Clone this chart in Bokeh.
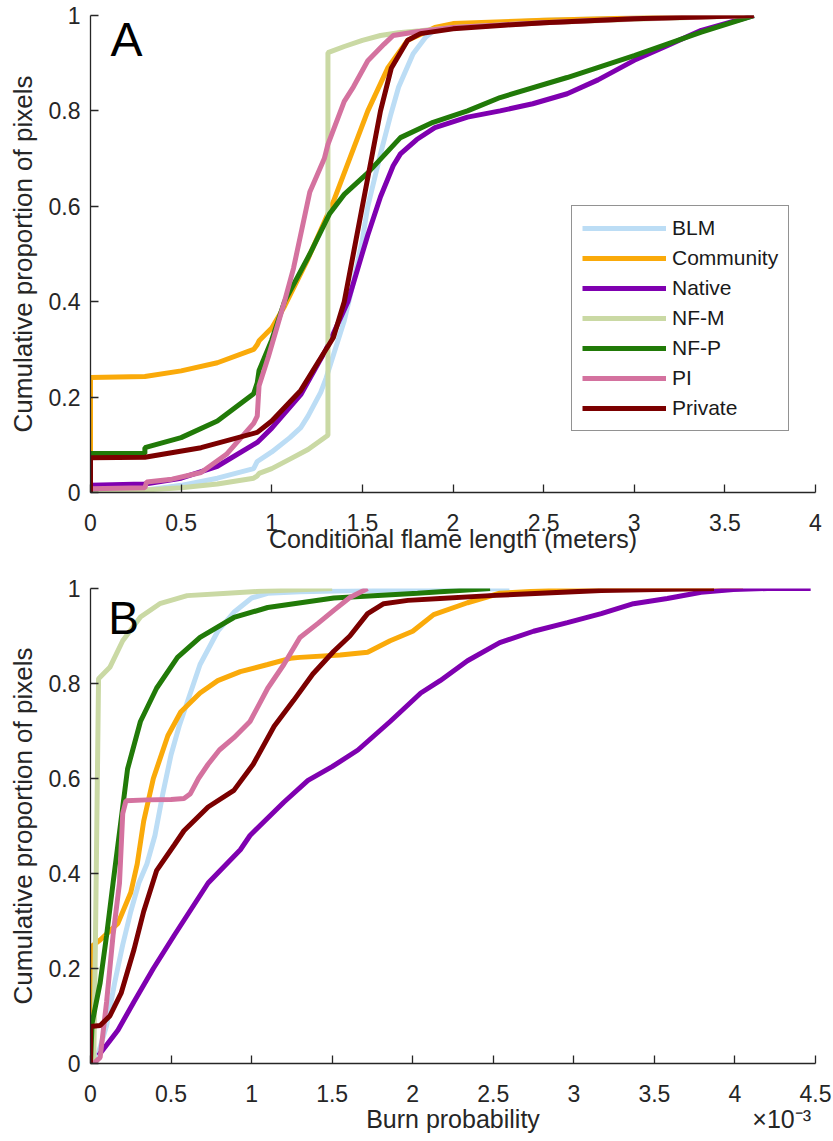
from bokeh.plotting import figure
from bokeh.models import (Legend, LegendItem, Label, FixedTicker, CustomJSTickFormatter,
                          LinearAxis)
from bokeh.layouts import column
from bokeh.embed import file_html
from bokeh.resources import INLINE

# ---------------- data ----------------
series = ["BLM", "Community", "Native", "NF-M", "NF-P", "PI", "Private"]
colors = ["#BCDDF5", "#FAAA0A", "#7F00B0", "#CAD9A4", "#217A08", "#D4729F", "#7B0000"]

# Panel A: conditional flame length (m) vs cumulative proportion
fl_blm_x = [0, 0.3, 0.5, 0.7, 0.9, 0.92, 1.0, 1.1, 1.16, 1.2, 1.27, 1.3, 1.4, 1.45, 1.5, 1.53, 1.6, 1.655, 1.7, 1.78, 1.85, 1.9, 2.0, 2.5, 3.0, 3.66]
fl_blm_y = [0, 0.005, 0.015, 0.03, 0.05, 0.065, 0.085, 0.115, 0.136, 0.16, 0.21, 0.24, 0.36, 0.44, 0.53, 0.6, 0.71, 0.79, 0.85, 0.92, 0.955, 0.97, 0.98, 0.99, 0.995, 1.0]

fl_com_x = [0, 0, 0.3, 0.5, 0.7, 0.9, 0.92, 0.93, 1.0, 1.07, 1.2, 1.34, 1.43, 1.53, 1.64, 1.75, 1.82, 1.9, 2.0, 2.5, 3.0, 3.66]
fl_com_y = [0, 0.241, 0.243, 0.255, 0.272, 0.30, 0.31, 0.318, 0.345, 0.39, 0.49, 0.61, 0.70, 0.80, 0.89, 0.948, 0.96, 0.975, 0.983, 0.99, 0.995, 1.0]

fl_nat_x = [0, 0, 0.3, 0.5, 0.7, 0.92, 1.0, 1.16, 1.3, 1.42, 1.53, 1.6, 1.67, 1.71, 1.8, 1.9, 2.08, 2.26, 2.44, 2.63, 2.8, 3.0, 3.2, 3.37, 3.66]
fl_nat_y = [0, 0.015, 0.018, 0.03, 0.055, 0.105, 0.135, 0.205, 0.30, 0.40, 0.54, 0.62, 0.685, 0.71, 0.74, 0.765, 0.787, 0.80, 0.815, 0.836, 0.865, 0.906, 0.94, 0.969, 1.0]

fl_nfm_x = [0, 0.3, 0.5, 0.7, 0.9, 0.92, 0.93, 1.0, 1.1, 1.2, 1.31, 1.31, 1.4, 1.5, 1.6, 1.7, 1.82, 2.0, 2.5, 3.0, 3.66]
fl_nfm_y = [0, 0.005, 0.01, 0.018, 0.03, 0.035, 0.04, 0.05, 0.07, 0.09, 0.12, 0.922, 0.935, 0.948, 0.958, 0.964, 0.968, 0.975, 0.985, 0.992, 1.0]

fl_nfp_x = [0, 0, 0.3, 0.3, 0.5, 0.7, 0.9, 0.92, 0.93, 1.0, 1.07, 1.21, 1.32, 1.4, 1.53, 1.71, 1.89, 2.08, 2.26, 2.63, 3.0, 3.37, 3.66]
fl_nfp_y = [0, 0.082, 0.082, 0.094, 0.115, 0.15, 0.207, 0.23, 0.256, 0.32, 0.40, 0.50, 0.585, 0.625, 0.67, 0.744, 0.776, 0.80, 0.828, 0.87, 0.916, 0.965, 1.0]

fl_pi_x = [0, 0, 0.3, 0.31, 0.45, 0.61, 0.75, 0.9, 0.92, 0.93, 0.98, 1.07, 1.12, 1.21, 1.29, 1.31, 1.40, 1.45, 1.53, 1.62, 1.67, 1.8, 2.0, 2.5, 3.0, 3.66]
fl_pi_y = [0, 0.008, 0.01, 0.022, 0.028, 0.042, 0.08, 0.145, 0.16, 0.224, 0.283, 0.40, 0.47, 0.63, 0.70, 0.73, 0.82, 0.85, 0.905, 0.94, 0.958, 0.966, 0.975, 0.985, 0.993, 1.0]

fl_pri_x = [0, 0, 0.3, 0.61, 0.92, 1.0, 1.16, 1.34, 1.40, 1.45, 1.5, 1.55, 1.60, 1.66, 1.75, 1.82, 2.0, 2.26, 2.5, 3.0, 3.66]
fl_pri_y = [0, 0.073, 0.074, 0.094, 0.126, 0.15, 0.214, 0.325, 0.40, 0.50, 0.60, 0.70, 0.80, 0.89, 0.948, 0.962, 0.972, 0.979, 0.985, 0.993, 1.0]

# Panel B: burn probability (x 10^-3) vs cumulative proportion
bp_blm_x = [0.03, 0.1, 0.15, 0.2, 0.25, 0.3, 0.35, 0.4, 0.45, 0.5, 0.55, 0.6, 0.68, 0.79, 0.89, 1.0, 1.1, 1.3, 1.6, 2.0, 2.6]
bp_blm_y = [0, 0.08, 0.17, 0.25, 0.32, 0.38, 0.42, 0.48, 0.57, 0.65, 0.71, 0.76, 0.84, 0.91, 0.95, 0.98, 0.99, 0.993, 0.995, 0.997, 1.0]

bp_com_x = [0, 0, 0.06, 0.17, 0.25, 0.29, 0.33, 0.39, 0.48, 0.56, 0.68, 0.79, 0.93, 1.1, 1.24, 1.3, 1.55, 1.72, 1.86, 2.0, 2.13, 2.34, 2.54, 2.96, 3.5, 4.05]
bp_com_y = [0, 0.245, 0.26, 0.295, 0.36, 0.42, 0.51, 0.60, 0.69, 0.74, 0.78, 0.806, 0.825, 0.84, 0.853, 0.855, 0.86, 0.866, 0.89, 0.91, 0.945, 0.97, 0.99, 0.998, 1.0, 1.0]

bp_nat_x = [0.05, 0.17, 0.27, 0.39, 0.52, 0.73, 0.93, 0.99, 1.2, 1.35, 1.5, 1.66, 1.86, 2.05, 2.17, 2.34, 2.54, 2.75, 2.96, 3.17, 3.37, 3.58, 3.79, 3.99, 4.2, 4.47]
bp_nat_y = [0.017, 0.07, 0.13, 0.2, 0.27, 0.38, 0.45, 0.48, 0.55, 0.596, 0.625, 0.66, 0.72, 0.78, 0.806, 0.848, 0.886, 0.91, 0.928, 0.947, 0.968, 0.979, 0.992, 0.998, 1.0, 1.0]

bp_nfm_x = [0.02, 0.03, 0.05, 0.12, 0.2, 0.31, 0.43, 0.6, 0.85, 1.05, 1.5]
bp_nfm_y = [0, 0.24, 0.81, 0.834, 0.89, 0.94, 0.968, 0.985, 0.99, 0.994, 1.0]

bp_nfp_x = [0, 0.01, 0.06, 0.1, 0.14, 0.17, 0.23, 0.31, 0.41, 0.54, 0.68, 0.89, 1.1, 1.51, 2.03, 2.48]
bp_nfp_y = [0, 0.085, 0.17, 0.27, 0.38, 0.46, 0.62, 0.72, 0.79, 0.855, 0.897, 0.939, 0.96, 0.98, 0.99, 1.0]

bp_pi_x = [0.02, 0.06, 0.1, 0.14, 0.18, 0.2, 0.22, 0.35, 0.5, 0.58, 0.62, 0.67, 0.73, 0.8, 0.89, 0.99, 1.1, 1.2, 1.3, 1.41, 1.51, 1.61, 1.72]
bp_pi_y = [0, 0.013, 0.13, 0.27, 0.38, 0.526, 0.553, 0.555, 0.556, 0.558, 0.568, 0.60, 0.63, 0.66, 0.686, 0.72, 0.79, 0.84, 0.897, 0.926, 0.954, 0.981, 1.0]

bp_pri_x = [0, 0, 0.06, 0.12, 0.19, 0.27, 0.33, 0.41, 0.52, 0.58, 0.73, 0.89, 1.01, 1.14, 1.26, 1.38, 1.51, 1.61, 1.72, 1.82, 1.97, 2.17, 2.48, 3.17, 3.87]
bp_pri_y = [0, 0.078, 0.08, 0.10, 0.148, 0.24, 0.32, 0.406, 0.46, 0.49, 0.54, 0.575, 0.63, 0.71, 0.764, 0.82, 0.868, 0.9, 0.947, 0.968, 0.975, 0.979, 0.985, 0.996, 1.0]

xticks_a = [0, 0.5, 1, 1.5, 2, 2.5, 3, 3.5, 4]
xticks_b = [0, 0.5, 1, 1.5, 2, 2.5, 3, 3.5, 4, 4.5]
yticks = [0, 0.2, 0.4, 0.6, 0.8, 1]

panel_a = list(zip(
    [fl_blm_x, fl_com_x, fl_nat_x, fl_nfm_x, fl_nfp_x, fl_pi_x, fl_pri_x],
    [fl_blm_y, fl_com_y, fl_nat_y, fl_nfm_y, fl_nfp_y, fl_pi_y, fl_pri_y]))
panel_b = list(zip(
    [bp_blm_x, bp_com_x, bp_nat_x, bp_nfm_x, bp_nfp_x, bp_pi_x, bp_pri_x],
    [bp_blm_y, bp_com_y, bp_nat_y, bp_nfm_y, bp_nfp_y, bp_pi_y, bp_pri_y]))

# ---------------- styling ----------------
FONT = "Liberation Sans"
AX = "#262626"
LW = 5

fmt = CustomJSTickFormatter(code="return String(Math.round(tick*1000)/1000);")


def style(p, xticks, xlabel, tick_standoff, label_standoff):
    p.outline_line_color = None
    p.grid.visible = False
    p.background_fill_color = "white"
    p.border_fill_color = "white"
    p.xaxis.ticker = FixedTicker(ticks=xticks)
    p.yaxis.ticker = FixedTicker(ticks=yticks)
    for ax in (p.xaxis[0], p.yaxis[0]):
        ax.formatter = fmt
        ax.axis_line_color = AX
        ax.axis_line_width = 1.3
        ax.major_tick_line_color = AX
        ax.major_tick_line_width = 1.3
        ax.major_tick_in = 8
        ax.major_tick_out = 0
        ax.minor_tick_in = 0
        ax.minor_tick_out = 0
        ax.major_label_text_font = FONT
        ax.major_label_text_font_size = "23px"
        ax.major_label_text_color = AX
        ax.axis_label_text_font = FONT
        ax.axis_label_text_font_style = "normal"
        ax.axis_label_text_color = AX
    p.xaxis.axis_label_text_font_size = "25px"
    p.yaxis.axis_label_text_font_size = "26px"
    if xlabel:
        p.xaxis.axis_label = xlabel
    p.yaxis.axis_label = "Cumulative proportion of pixels"
    p.xaxis.major_label_standoff = tick_standoff
    p.xaxis.axis_label_standoff = label_standoff
    p.yaxis.major_label_standoff = 10
    p.yaxis.axis_label_standoff = 8


pA = figure(width=833, height=570, x_range=(0, 4), y_range=(0, 1),
            output_backend="svg", toolbar_location=None,
            min_border_left=90, min_border_right=18, min_border_top=15, min_border_bottom=78)
style(pA, xticks_a, "Conditional flame length (meters)", 21, -9)

items = []
for name, col, (xs, ys) in zip(series, colors, panel_a):
    r = pA.line(xs, ys, line_color=col, line_width=LW)
    items.append(LegendItem(label=name, renderers=[r]))

legend = Legend(items=items, location=(481, 61), margin=0, padding=10, spacing=6,
                label_height=24, glyph_height=24, glyph_width=84, label_standoff=6,
                label_text_font=FONT, label_text_font_size="21px", label_text_color="#1a1a1a",
                border_line_color=AX, border_line_width=1.3, background_fill_color="white",
                background_fill_alpha=1.0)
pA.add_layout(legend)

pA.add_layout(Label(x=0.11, y=0.95, text="A", text_font=FONT, text_font_size="48px",
                    text_color="black", text_baseline="alphabetic"))

pB = figure(width=833, height=571, x_range=(0, 4.5), y_range=(0, 1),
            output_backend="svg", toolbar_location=None,
            min_border_left=90, min_border_right=18, min_border_top=18, min_border_bottom=78)
style(pB, xticks_b, None, 21, 0)

for name, col, (xs, ys) in zip(series, colors, panel_b):
    pB.line(xs, ys, line_color=col, line_width=LW)

pB.add_layout(Label(x=0.11, y=0.937, text="B", text_font=FONT, text_font_size="46px",
                    text_color="black", text_baseline="alphabetic"))

# second, line-less axis under the tick labels: carries the axis title and the
# x10^-3 exponent on one line (title centred on the axis, exponent at the right end)
b_title = "Burn probability"
b_exponent = "\u00d710\u207b\u00b3"
title_axis = LinearAxis(
    ticker=FixedTicker(ticks=[2.25, 4.29]),
    formatter=CustomJSTickFormatter(
        args=dict(t=b_title, e=b_exponent),
        code="return tick < 3 ? t : e;"),
    axis_line_color=None, major_tick_line_color=None, minor_tick_line_color=None,
    major_tick_in=0, major_tick_out=0, minor_tick_in=0, minor_tick_out=0,
    major_label_standoff=0, major_label_text_font=FONT,
    major_label_text_font_size="25px", major_label_text_color=AX)
pB.add_layout(title_axis, "below")

layout = column(pA, pB, spacing=0)
open("out.html", "w").write(file_html(layout, INLINE))
